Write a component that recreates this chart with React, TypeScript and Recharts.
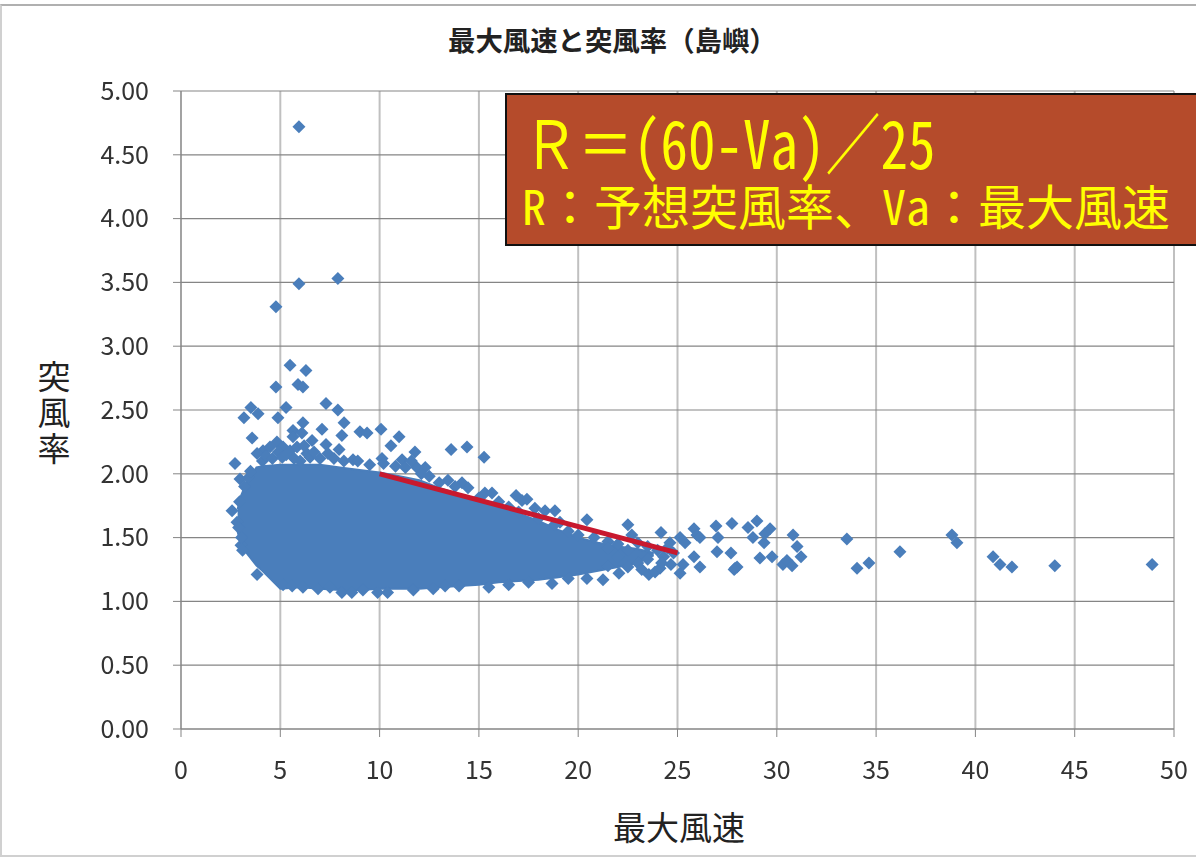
import React from 'react';
import { ComposedChart, Area, Scatter, XAxis, YAxis, CartesianGrid } from 'recharts';

const xTicks = [0, 5, 10, 15, 20, 25, 30, 35, 40, 45, 50];
const yTicks = [0, 0.5, 1, 1.5, 2, 2.5, 3, 3.5, 4, 4.5, 5];

// 点が重なって塗りつぶしになっている範囲 (上端・下端を図から読み取り)
const cloudX = [2.85, 3, 3.3, 3.8, 4.1, 5, 6, 7, 8, 9, 10, 11, 12, 13, 14, 15, 16, 17, 18, 19, 20, 21, 22, 23, 23.8];
const cloudLow = [1.55, 1.45, 1.38, 1.28, 1.24, 1.1, 1.11, 1.1, 1.09, 1.09, 1.1, 1.1, 1.1, 1.11, 1.12, 1.13, 1.15, 1.16, 1.17, 1.19, 1.21, 1.24, 1.27, 1.3, 1.36];
const cloudHigh = [1.72, 1.82, 1.93, 2.05, 2.06, 2.07, 2.07, 2.07, 2.05, 2.03, 2.01, 1.98, 1.95, 1.89, 1.84, 1.79, 1.74, 1.69, 1.63, 1.56, 1.5, 1.46, 1.43, 1.41, 1.38];

// 上側の外れ値
const upperPoints = [
  [5.94, 4.72], [5.94, 3.49], [7.9, 3.53], [4.78, 3.31], [5.49, 2.85], [6.29, 2.81], [4.78, 2.68], [5.89, 2.7], [6.14, 2.68],
  [7.3, 2.55], [7.9, 2.5], [5.29, 2.52], [3.52, 2.52], [3.88, 2.47], [3.17, 2.44], [4.88, 2.44], [8.21, 2.4], [6.14, 2.4],
  [7.1, 2.35], [10.07, 2.35], [9.01, 2.33], [9.37, 2.32], [8.1, 2.3], [10.98, 2.29], [3.58, 2.28], [10.57, 2.22], [5.64, 2.34],
  [6.6, 2.26], [7.3, 2.23], [7.96, 2.19], [11.78, 2.17], [13.6, 2.19], [14.4, 2.21], [15.26, 2.13], [11.13, 2.11], [10.12, 2.12],
  [8.66, 2.11], [2.72, 2.08], [11.88, 2.05], [2.97, 1.96], [4.13, 2.18], [4.83, 2.25], [5.14, 2.21], [5.64, 2.29], [6.09, 2.32],
  [3.83, 2.16], [4.48, 2.21], [5.49, 2.18], [6.34, 2.16], [5.84, 2.21], [12.3, 2.05], [13.44, 1.95], [14.15, 1.93], [14.45, 1.89],
  [15.3, 1.85], [15.66, 1.85], [16.87, 1.83], [17.42, 1.8], [17.17, 1.79], [17.82, 1.73], [18.83, 1.71], [18.33, 1.71],
  [20.44, 1.64], [19.08, 1.62], [22.5, 1.6], [22.7, 1.52],
];

// 雲の上端のでこぼこ
const ridgePoints = [
  [4.1, 2.1], [4.3, 2.14], [4.6, 2.12], [4.9, 2.17], [5.1, 2.13], [5.3, 2.15], [5.7, 2.12], [6, 2.1], [6.2, 2.22], [6.5, 2.13],
  [6.7, 2.17], [7, 2.12], [7.4, 2.16], [7.7, 2.12], [8.2, 2.1], [8.9, 2.1], [9.5, 2.07], [10.2, 2.08], [10.8, 2.06], [11.3, 2.05],
  [11.6, 2.1], [12.1, 2], [12.5, 1.98], [13, 1.93], [13.8, 1.9], [15, 1.81], [16, 1.78], [16.5, 1.74], [17, 1.7], [18, 1.65],
  [18.8, 1.6], [19.5, 1.55], [20, 1.52], [20.8, 1.5], [21.5, 1.47],
];

// 左端・下端の点
const lowerPoints = [
  [2.57, 1.71], [2.82, 1.62], [3.02, 1.44], [3.83, 1.21], [5.14, 1.13], [6.14, 1.11], [6.9, 1.1], [8.1, 1.07], [8.6, 1.07],
  [9.16, 1.09], [9.9, 1.07], [10.4, 1.07], [11.7, 1.09], [12.7, 1.1], [14, 1.12], [15.5, 1.11], [16.5, 1.13], [17.5, 1.15],
  [18.68, 1.14], [20.44, 1.18], [21.25, 1.17], [22.05, 1.22], [23.56, 1.21], [23.87, 1.23], [24.12, 1.26], [3.05, 1.5], [2.9, 1.58],
  [2.95, 1.78], [3.2, 1.9], [3.4, 1.97], [3.5, 2.02], [3.1, 1.4], [5.6, 1.12], [7.5, 1.11], [13.3, 1.12], [19.5, 1.18],
];

// 雲の右端の点
const tailPoints = [
  [22, 1.45], [22.5, 1.4], [23, 1.46], [23.5, 1.43], [23, 1.3], [23.5, 1.33], [24, 1.4], [24.3, 1.35], [24.5, 1.42], [24.8, 1.38],
  [23.2, 1.25], [22.5, 1.27], [24.2, 1.3], [22, 1.35], [21.5, 1.28], [21.5, 1.42],
];

// 右側のまばらな点
const rightPoints = [
  [24.17, 1.54], [24.62, 1.46], [25.13, 1.5], [25.38, 1.46], [24.67, 1.29], [25.13, 1.22], [25.28, 1.29], [25.83, 1.57],
  [25.83, 1.35], [25.98, 1.52], [26.13, 1.5], [26.13, 1.27], [26.94, 1.59], [27.04, 1.5], [26.99, 1.39], [27.69, 1.38],
  [27.74, 1.61], [27.9, 1.26], [28.0, 1.27], [27.85, 1.25], [28.55, 1.58], [28.8, 1.5], [29.0, 1.63], [29.15, 1.34],
  [29.36, 1.46], [29.4, 1.53], [29.66, 1.57], [29.76, 1.35], [30.31, 1.29], [30.51, 1.32], [30.77, 1.28], [30.82, 1.52],
  [31.02, 1.43], [31.22, 1.35], [33.53, 1.49], [34.04, 1.26], [34.64, 1.3], [36.2, 1.39], [38.82, 1.52], [39.07, 1.46],
  [40.89, 1.35], [41.24, 1.29], [41.84, 1.27], [44.0, 1.28], [48.9, 1.29],
];

const fitX = [10, 25];
const fitY = [2.0, 1.38];

const cloudData = cloudX.map((x, i) => ({ x, range: [cloudLow[i], cloudHigh[i]] }));
const scatterData = [...upperPoints, ...ridgePoints, ...lowerPoints, ...tailPoints, ...rightPoints].map(([x, y]) => ({ x, y }));
const fitData = fitX.map((x, i) => ({ x, y: fitY[i] }));

const FONT = '"Noto Sans CJK JP", sans-serif';
const BLUE = '#4a7ebb';
const HALF: React.CSSProperties = { fontFeatureSettings: '"hwid"' };

// 全角文字はエスケープで書く
const TITLE = '最大風速と突風率\uFF08島嶼\uFF09';
const COLON = '\uFF1A';

const DiamondMark = ({ cx, cy }: { cx?: number; cy?: number }) => (
  <path d={`M${cx},${(cy as number) - 6.5}L${(cx as number) + 6.5},${cy}L${cx},${(cy as number) + 6.5}L${(cx as number) - 6.5},${cy}Z`} fill={BLUE} />
);

const NoMark = () => null;

const App = () => {
  return (
    <div style={{ position: 'absolute', left: 0, top: 0, width: 1196, height: 860, overflow: 'hidden', background: '#fff', fontFamily: FONT }}>
      <div style={{ filter: 'blur(0.6px)' }}>
        <ComposedChart width={1196} height={860} margin={{ top: 91, right: 22, bottom: 101, left: 121 }}>
          <CartesianGrid horizontal={false} stroke="#c0c0c0" strokeWidth={2} verticalValues={xTicks} />
          <CartesianGrid vertical={false} stroke="#858585" strokeWidth={1.2} horizontalValues={yTicks} />
          <XAxis
            dataKey="x"
            type="number"
            domain={[0, 50]}
            ticks={xTicks}
            interval={0}
            height={30}
            stroke="#858585"
            tickSize={8}
            tickMargin={24}
            tick={{ fontSize: 25, fill: '#333', fontFamily: FONT }}
          />
          <YAxis
            type="number"
            domain={[0, 5]}
            ticks={yTicks}
            interval={0}
            width={60}
            stroke="#858585"
            tickSize={8}
            tickMargin={24}
            tickFormatter={(v: number) => v.toFixed(2)}
            tick={{ fontSize: 25, fill: '#333', fontFamily: FONT }}
          />
          <Area data={cloudData} dataKey="range" type="linear" stroke={BLUE} strokeWidth={2} fill={BLUE} fillOpacity={1} dot={false} activeDot={false} isAnimationActive={false} />
          <Scatter data={scatterData} dataKey="y" shape={<DiamondMark />} isAnimationActive={false} />
          {/* 予想線は点の上に描く */}
          <Scatter data={fitData} dataKey="y" line={{ stroke: '#c8192e', strokeWidth: 5 }} shape={<NoMark />} isAnimationActive={false} />
        </ComposedChart>
      </div>

      <div style={{ position: 'absolute', left: 0, top: 4, width: 1196, height: 853, boxSizing: 'border-box', borderTop: '2px solid #b0b0b0', borderLeft: '2px solid #d0d0d0', borderBottom: '2px solid #d0d0d0' }} />
      <div style={{ position: 'absolute', left: 448, top: 20, fontSize: 27.4, lineHeight: '38px', fontWeight: 700, color: '#222', whiteSpace: 'nowrap' }}>
        {TITLE}
      </div>
      <div style={{ position: 'absolute', left: 36, top: 360, fontSize: 33, lineHeight: '36px', letterSpacing: 3, writingMode: 'vertical-rl', color: '#222', whiteSpace: 'nowrap' }}>
        突風率
      </div>
      <div style={{ position: 'absolute', left: 613, top: 804, fontSize: 33, lineHeight: '44px', color: '#222', whiteSpace: 'nowrap' }}>
        最大風速
      </div>

      <div style={{ position: 'absolute', left: 505, top: 93, width: 700, height: 153, boxSizing: 'border-box', background: '#b54b2b', border: '2px solid #111', color: '#ffff00' }}>
        <div style={{ position: 'absolute', left: 16, top: 20, fontSize: 55, lineHeight: '50px', whiteSpace: 'nowrap', transform: 'scaleY(1.2)' }}>
          {'\uFF32\uFF1D'}<span style={HALF}>(60-Va)</span>{'\uFF0F'}<span style={HALF}>25</span>
        </div>
        <div style={{ position: 'absolute', left: 15, top: 78, fontSize: 48, lineHeight: '62px', whiteSpace: 'nowrap' }}>
          <span style={HALF}>R</span>{COLON}予想突風率、<span style={HALF}>Va</span>{COLON}最大風速
        </div>
      </div>
    </div>
  );
};

export default App;
